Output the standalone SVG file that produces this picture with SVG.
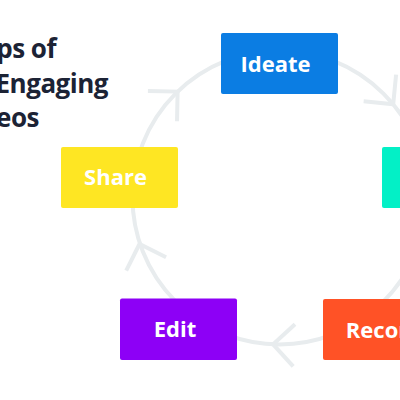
<svg xmlns="http://www.w3.org/2000/svg" width="400" height="400" viewBox="0 0 400 400">
  <style>
    .ring { fill: none; stroke: #e8ecee; stroke-width: 4; }
    .chev { fill: none; stroke: #e8ecee; stroke-width: 4; stroke-linecap: butt; stroke-linejoin: miter; }
    .box-label { font-family: "Open Sans", "Noto Sans", "Liberation Sans", sans-serif; font-weight: 700; font-size: 22px; fill: #ffffff; text-anchor: middle; }
    .title { font-family: "Open Sans", "Noto Sans", "Liberation Sans", sans-serif; font-weight: 700; font-size: 26px; letter-spacing: -0.5px; fill: #1c2335; text-anchor: end; }
  </style>
  <defs>
    <path id="chevron" d="M -21 -21 L 0 0 L -21 21"/>
  </defs>
  <rect x="0" y="0" width="400" height="400" fill="#ffffff"/>

  <g id="title">
    <text class="title" x="56" y="58">ps of</text>
    <text class="title" x="108" y="93">Engaging</text>
    <text class="title" x="39" y="127">eos</text>
  </g>

  <g id="connectors">
    <circle class="ring" cx="279.5" cy="197.5" r="147"/>
    <use href="#chevron" class="chev" transform="translate(177.6 91.6) rotate(-43.9)"/>
    <use href="#chevron" class="chev" transform="translate(393.2 104.2) rotate(50.6)"/>
    <use href="#chevron" class="chev" transform="translate(139.5 244) rotate(251.6)"/>
    <use href="#chevron" class="chev" transform="translate(273.1 344.4) rotate(182.5)"/>
  </g>

  <g id="node-ideate">
    <rect x="221" y="33" width="117" height="61" rx="2" fill="#0b7de3"/>
    <text class="box-label" x="275.5" y="71.5">Ideate</text>
  </g>
  <g id="node-plan">
    <rect x="382" y="147" width="117" height="61" rx="2" fill="#03f0c6"/>
  </g>
  <g id="node-record">
    <rect x="323" y="299" width="117" height="61" rx="2" fill="#ff5226"/>
    <text class="box-label" x="384" y="337.5">Record</text>
  </g>
  <g id="node-edit">
    <rect x="120" y="298.5" width="117" height="61.5" rx="2" fill="#8d00f6"/>
    <text class="box-label" x="175" y="337">Edit</text>
  </g>
  <g id="node-share">
    <rect x="61" y="147" width="117" height="61" rx="2" fill="#fee623"/>
    <text class="box-label" x="115.5" y="185">Share</text>
  </g>
</svg>
